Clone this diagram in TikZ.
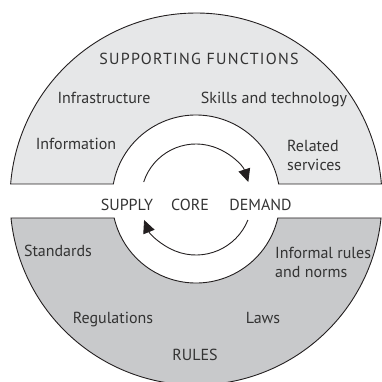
\documentclass[tikz,border=0pt]{standalone}
\usepackage{fontspec}
\setmainfont{PT Sans}
\newfontfamily\headfont[LetterSpace=8]{PT Sans}
\usetikzlibrary{arrows.meta,calc}
\definecolor{topfill}{HTML}{E6E7E8}
\definecolor{botfill}{HTML}{C8C9CB}
\definecolor{ink}{HTML}{231F20}
\definecolor{txt}{HTML}{333333}
\tikzset{
  band/.style={draw=ink, line width=0.9pt, line join=miter},
  lbl/.style={text=txt, font=\fontsize{16}{19}\selectfont, inner sep=0pt, anchor=base},
  head/.style={text=txt, font=\headfont\fontsize{16}{19}\selectfont, inner sep=0pt, anchor=base},
  two/.style={text=txt, font=\fontsize{16}{19}\selectfont, inner sep=0pt, align=left, anchor=west},
  cyc/.style={draw=ink, line width=0.9pt, -{Triangle[length=13pt,width=12pt]}}
}
\begin{document}
\begin{tikzpicture}[x=1pt,y=1pt]
\useasboundingbox (-196,199) rectangle (185,-183);
% top band
\path[band, fill=topfill] (185.4,15) arc[start angle=4.63, end angle=175.37, radius=186]
  -- (-82.65,15) arc[start angle=169.71, end angle=10.29, radius=84] -- cycle;
% bottom band
\path[band, fill=botfill] (-185.0,-19) arc[start angle=185.86, end angle=354.14, radius=186]
  -- (81.82,-19) arc[start angle=346.93, end angle=193.07, radius=84] -- cycle;
% cycle arrows
\coordinate (c) at (0,0);
\draw[cyc] ($(c)+(162:55)$) arc[start angle=162, end angle=18, radius=55];
\draw[cyc] ($(c)+(-22:56)$) arc[start angle=-22, end angle=-158, radius=56];
% labels
\node[head] (sf) at (3,134) {SUPPORTING FUNCTIONS};
\node[lbl] (inf) at (-92,95) {Infrastructure};
\node[lbl] (skl) at (78,95) {Skills and technology};
\node[lbl] (info) at (-120,49) {Information};
\node[two] (rel) at (91,44) {Related\\services};
\node[lbl] (sup) at (-69,-12) {SUPPLY};
\node[lbl] (core) at (-6,-12) {CORE};
\node[lbl] (dem) at (64.5,-12) {DEMAND};
\node[lbl] (std) at (-138,-57) {Standards};
\node[two] (irn) at (79,-63) {Informal rules\\and norms};
\node[lbl] (reg) at (-83,-124) {Regulations};
\node[lbl] (law) at (67,-124) {Laws};
\node[lbl] (rul) at (-1,-161) {RULES};
\end{tikzpicture}
\end{document}
